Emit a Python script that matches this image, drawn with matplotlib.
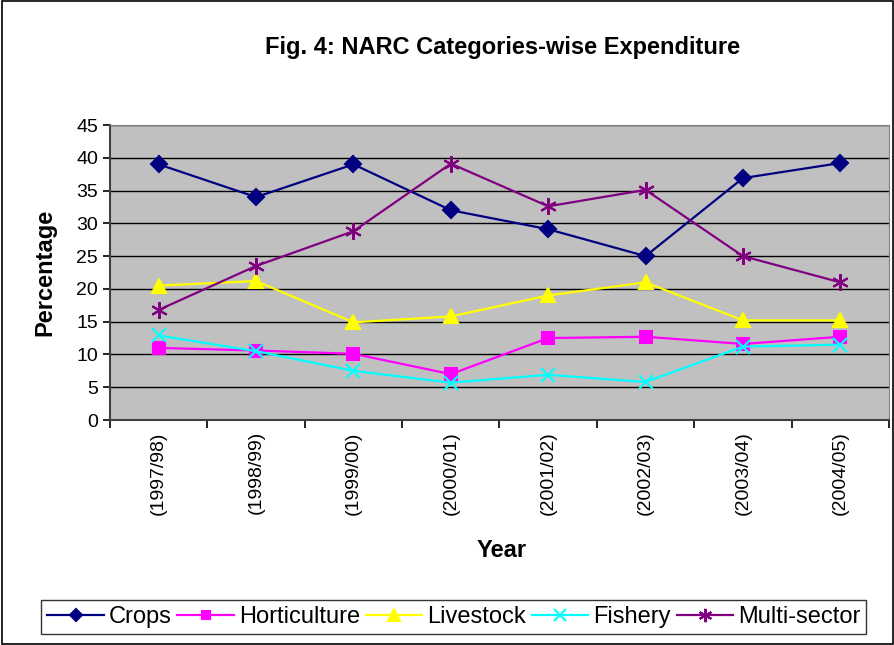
import numpy as np
import matplotlib.pyplot as plt
from matplotlib.patches import Rectangle

plt.rcParams['font.family'] = ['Liberation Sans', 'DejaVu Sans']

# Data
years = ['(1997/98)', '(1998/99)', '(1999/00)', '(2000/01)',
         '(2001/02)', '(2002/03)', '(2003/04)', '(2004/05)']
crops = [39.0, 34.0, 39.0, 32.0, 29.1, 25.0, 36.9, 39.2]
horticulture = [11.0, 10.6, 10.1, 7.0, 12.5, 12.7, 11.6, 12.7]
livestock = [20.5, 21.2, 14.9, 15.8, 19.0, 21.0, 15.2, 15.2]
fishery = [12.9, 10.5, 7.5, 5.7, 6.9, 5.8, 11.2, 11.5]
multi_sector = [16.8, 23.5, 28.8, 39.1, 32.6, 35.1, 25.0, 21.0]

series = [
    ('Crops', crops, '#000080', 'D', 8),
    ('Horticulture', horticulture, '#FF00FF', 's', 8),
    ('Livestock', livestock, '#FFFF00', '^', 10),
    ('Fishery', fishery, '#00FFFF', 'x', 10),
    ('Multi-sector', multi_sector, '#800080', (6, 2, 0), 12),
]

fig = plt.figure(figsize=(8.95, 6.45), dpi=100)
# outer chart border
fig.patches.append(Rectangle((0.002, 0.002), 0.996, 0.996, transform=fig.transFigure,
                             fill=False, edgecolor='black', linewidth=1.2))

ax = fig.add_axes([0.1229, 0.3488, 0.8704, 0.4574])
ax.set_facecolor('#C0C0C0')

x = np.arange(len(years))
for name, vals, col, mk, ms in series:
    ax.plot(x, vals, color=col, marker=mk, markersize=ms, linewidth=1.6,
            markeredgecolor=col, markeredgewidth=1.5, label=name, zorder=3)

ax.set_xlim(-0.5, len(years) - 0.5)
ax.set_ylim(0, 45)
ax.set_yticks(np.arange(0, 46, 5))
ax.yaxis.grid(True, color='black', linewidth=1.0)
ax.set_axisbelow(True)

ax.set_xticks(x)
ax.set_xticklabels(years, rotation=90, fontsize=14)
ax.tick_params(axis='x', which='major', length=0, pad=8)
ax.set_xticks(np.arange(-0.5, len(years), 1), minor=True)
ax.tick_params(axis='x', which='minor', length=6, width=1.2, direction='out')
ax.tick_params(axis='y', labelsize=14, length=5, width=1.2)

for side in ['top', 'right']:
    ax.spines[side].set_color('#808080')
for side in ['left', 'bottom']:
    ax.spines[side].set_color('#404040')
    ax.spines[side].set_linewidth(1.5)

fig.text(0.561, 0.926, 'Fig. 4: NARC Categories-wise Expenditure',
         ha='center', va='center', fontsize=17, fontweight='bold')
fig.text(0.56, 0.147, 'Year', ha='center', va='center',
         fontsize=17, fontweight='bold')
fig.text(0.05, 0.578, 'Percentage', ha='center', va='center',
         rotation=90, fontsize=17, fontweight='bold')

leg = fig.legend(loc='center', bbox_to_anchor=(0.507, 0.043), ncol=5,
                 fontsize=17, frameon=True, fancybox=False, edgecolor='black',
                 handlelength=2.4, handletextpad=0.2, columnspacing=0.25,
                 borderpad=0.25, borderaxespad=0.2, markerscale=0.8)
leg.get_frame().set_linewidth(1.0)

fig.savefig('out.png', dpi=100)
